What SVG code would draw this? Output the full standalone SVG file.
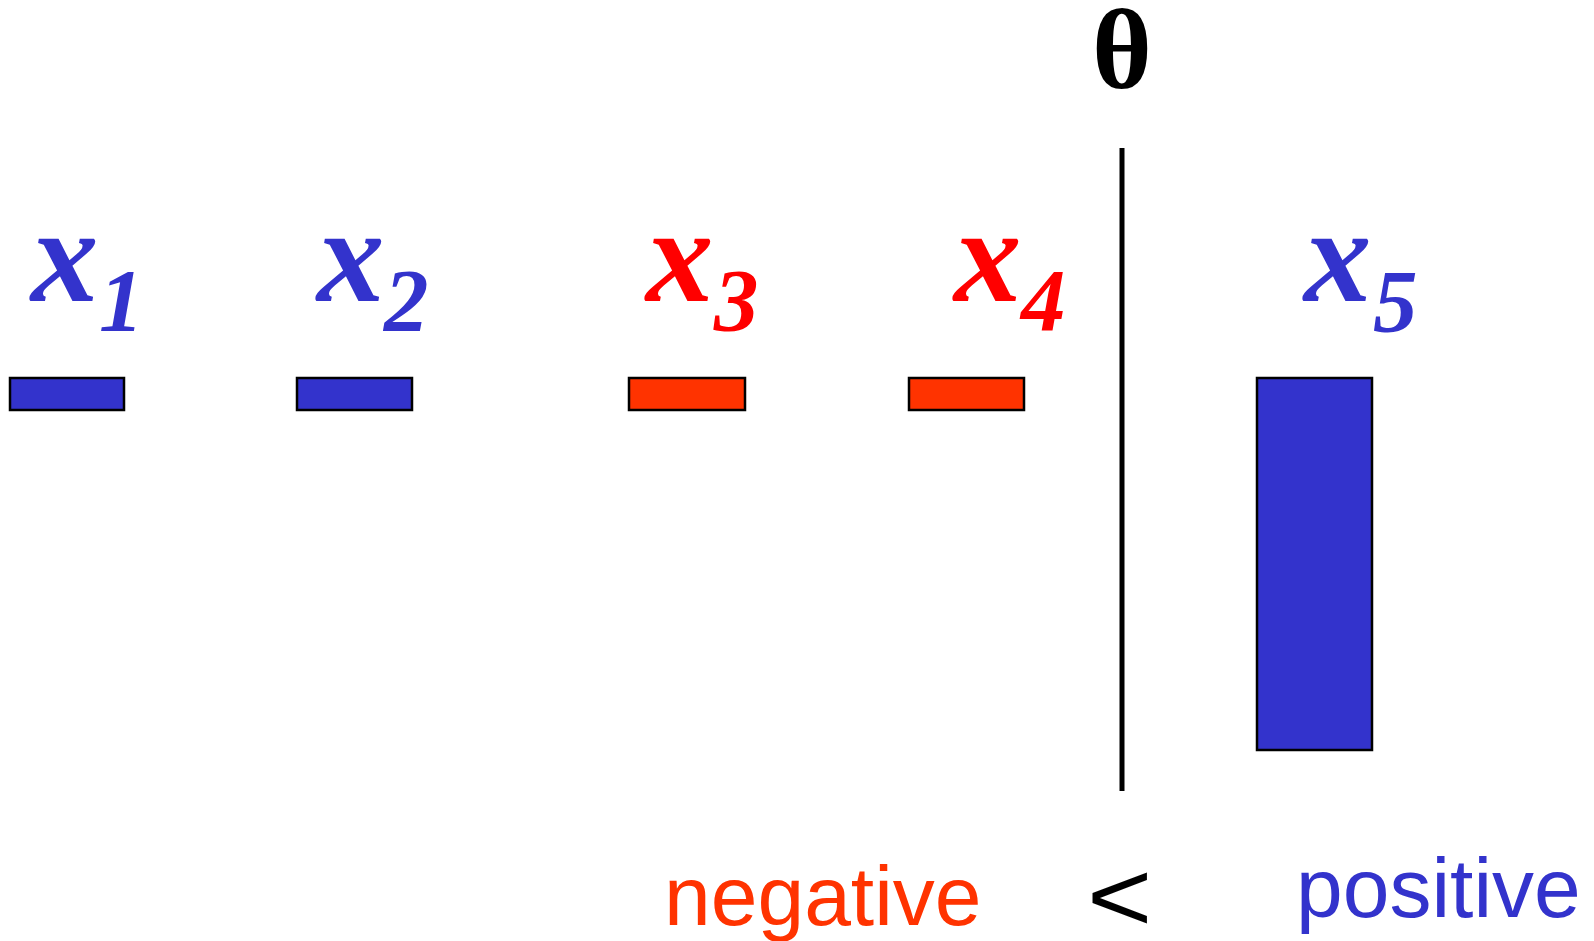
<svg xmlns="http://www.w3.org/2000/svg" width="1594" height="941" viewBox="0 0 1594 941">
<style>
.var{font-family:"Liberation Serif","Times New Roman",serif;font-style:italic;font-weight:bold;font-size:135px}
.sub{font-family:"Liberation Serif","Times New Roman",serif;font-style:italic;font-weight:bold;font-size:89px}
.blue{fill:#3333CC}
.red{fill:#FF0000}
.bar{stroke:#000;stroke-width:2.5}
.bb{fill:#3333CC}
.rb{fill:#FF3300}
.word{font-family:"Liberation Sans",Arial,sans-serif;font-size:84px}
</style>
<rect width="1594" height="941" fill="#fff"/>
<g id="threshold">
<line x1="1122" y1="148" x2="1122" y2="791" stroke="#000" stroke-width="5"/>
<text x="1122" y="88" text-anchor="middle" style="font-family:'Liberation Serif','Times New Roman',serif;font-weight:bold;font-size:115px" fill="#000">θ</text>
</g>
<g id="x1">
<text class="var blue" x="31" y="301">x</text>
<text class="sub blue" x="99" y="330">1</text>
<rect class="bar bb" x="10" y="378" width="114" height="32"/>
</g>
<g id="x2">
<text class="var blue" x="317" y="301">x</text>
<text class="sub blue" x="384" y="330">2</text>
<rect class="bar bb" x="297" y="378" width="115" height="32"/>
</g>
<g id="x3">
<text class="var red" x="646" y="301">x</text>
<text class="sub red" x="714" y="330">3</text>
<rect class="bar rb" x="629" y="378" width="116" height="32"/>
</g>
<g id="x4">
<text class="var red" x="954" y="301">x</text>
<text class="sub red" x="1021" y="330">4</text>
<rect class="bar rb" x="909" y="378" width="115" height="32"/>
</g>
<g id="x5">
<text class="var blue" x="1304" y="301">x</text>
<text class="sub blue" x="1373" y="331">5</text>
<rect class="bar bb" x="1257" y="378" width="115" height="372"/>
</g>
<g id="legend">
<text class="word" x="664" y="925" fill="#FF3300">negative</text>
<text class="word" transform="translate(1087,931) scale(1.12,1)" x="0" y="0" fill="#000" style="font-size:100px">&lt;</text>
<text class="word" x="1296" y="917" fill="#3333CC">positive</text>
</g>
</svg>
